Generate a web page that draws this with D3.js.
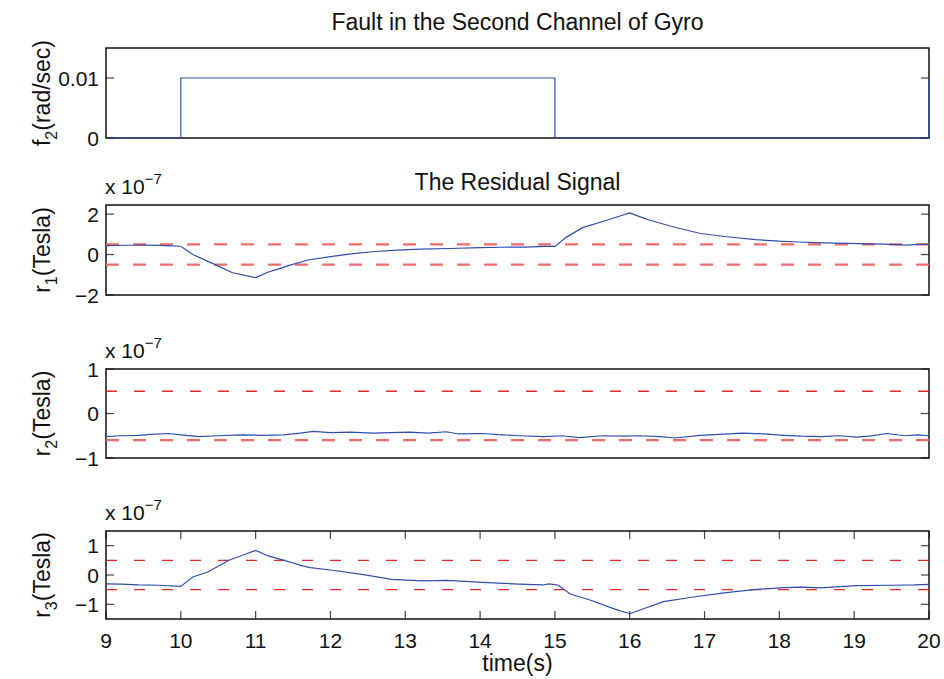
<!DOCTYPE html>
<html>
<head>
<meta charset="utf-8">
<script src="https://cdn.jsdelivr.net/npm/d3@7"></script>
<style>
  body { margin: 0; background: #fff; }
  svg { font-family: "Liberation Sans", Arial, Helvetica, sans-serif; }
</style>
</head>
<body>
<svg id="chart" width="944" height="679"></svg>
<script>
// Fault + residual data, residuals in units of 1e-7 Tesla
const timeTicks = [9, 10, 11, 12, 13, 14, 15, 16, 17, 18, 19, 20];

const faultTime = [9, 10, 10, 15, 15, 20, 20];
const faultVals = [0, 0, 0.01, 0.01, 0, 0, 0.01];

const r1Time = [9, 9.3, 9.6, 9.8, 10, 10.16, 10.4, 10.69, 11, 11.17, 11.3, 11.46, 11.7, 12, 12.3, 12.6, 12.9, 13.2, 13.6, 14, 14.3, 14.6, 14.85, 15, 15.15, 15.37, 15.66, 16, 16.15, 16.26, 16.6, 16.95, 17.3, 17.68, 18, 18.24, 18.6, 19.05, 19.4, 19.7, 19.85, 20];
const r1Vals = [0.44, 0.46, 0.47, 0.44, 0.41, 0.0, -0.4, -0.9, -1.14, -0.86, -0.72, -0.52, -0.27, -0.1, 0.05, 0.15, 0.22, 0.27, 0.3, 0.34, 0.36, 0.37, 0.4, 0.4, 0.85, 1.33, 1.66, 2.06, 1.85, 1.71, 1.35, 1.04, 0.88, 0.74, 0.66, 0.62, 0.58, 0.54, 0.52, 0.47, 0.5, 0.5];

const r2Time = [9, 9.2, 9.44, 9.6, 9.84, 10, 10.24, 10.5, 10.8, 11.1, 11.37, 11.6, 11.77, 12, 12.26, 12.58, 12.8, 13.06, 13.3, 13.55, 13.71, 14.03, 14.3, 14.52, 14.84, 15.1, 15.32, 15.65, 15.9, 16.13, 16.4, 16.61, 16.94, 17.2, 17.5, 17.8, 18.06, 18.3, 18.55, 18.8, 19.03, 19.2, 19.44, 19.68, 19.85, 20];
const r2Vals = [-0.52, -0.5, -0.49, -0.47, -0.45, -0.48, -0.52, -0.5, -0.48, -0.49, -0.48, -0.44, -0.4, -0.43, -0.42, -0.44, -0.43, -0.42, -0.44, -0.41, -0.46, -0.45, -0.48, -0.5, -0.52, -0.5, -0.54, -0.5, -0.51, -0.5, -0.52, -0.55, -0.49, -0.47, -0.44, -0.46, -0.49, -0.51, -0.52, -0.5, -0.53, -0.51, -0.45, -0.5, -0.48, -0.5];

const r3Time = [9, 9.2, 9.44, 9.7, 10, 10.16, 10.36, 10.65, 10.85, 11, 11.17, 11.45, 11.6, 11.73, 12, 12.42, 12.82, 13.23, 13.55, 13.8, 14.03, 14.52, 14.84, 14.92, 15.04, 15.2, 15.48, 15.81, 16, 16.13, 16.45, 16.85, 17.26, 17.66, 18.06, 18.3, 18.55, 19.03, 19.52, 19.8, 20];
const r3Vals = [-0.3, -0.31, -0.34, -0.35, -0.39, -0.07, 0.1, 0.51, 0.7, 0.84, 0.65, 0.45, 0.33, 0.25, 0.17, 0.02, -0.15, -0.2, -0.18, -0.22, -0.25, -0.31, -0.34, -0.3, -0.34, -0.64, -0.86, -1.17, -1.32, -1.2, -0.91, -0.75, -0.61, -0.5, -0.43, -0.41, -0.44, -0.36, -0.35, -0.34, -0.32];

// detection thresholds per residual
const r1Thresh = [0.5, -0.5];
const r2Thresh = [0.5, -0.6];
const r3Thresh = [0.5, -0.5];

const svg = d3.select("#chart");
const left = 106, right = 929;

const x = d3.scaleLinear().domain([9, 20]).range([left, right]);

const panels = [
  { top: 48, bottom: 138, domain: [0, 0.015], ticks: [0, 0.01], fmt: d => d === 0 ? "0" : "0.01",
    time: faultTime, vals: faultVals, thresh: [], label: ["f", "2", "(rad/sec)"], exp: false, xTicks: false },
  { top: 205, bottom: 295, domain: [-2, 2.45], ticks: [-2, 0, 2], fmt: d3.format("d"),
    time: r1Time, vals: r1Vals, thresh: r1Thresh, thick: [true, true], label: ["r", "1", "(Tesla)"], exp: true, xTicks: false },
  { top: 369, bottom: 458, domain: [-1, 1], ticks: [-1, 0, 1], fmt: d3.format("d"),
    time: r2Time, vals: r2Vals, thresh: r2Thresh, thick: [false, true], label: ["r", "2", "(Tesla)"], exp: true, xTicks: false },
  { top: 531, bottom: 619, domain: [-1.5, 1.5], ticks: [-1, 0, 1], fmt: d3.format("d"),
    time: r3Time, vals: r3Vals, thresh: r3Thresh, thick: [false, false], label: ["r", "3", "(Tesla)"], exp: true, xTicks: true }
];

const minus = s => String(s).replace("-", "\u2212");

panels.forEach(p => {
  const y = d3.scaleLinear().domain(p.domain).range([p.bottom, p.top]);
  const g = svg.append("g");

  // y ticks, inward on both sides
  const tickLen = 8;
  p.ticks.forEach(t => {
    g.append("line").attr("x1", left).attr("x2", left + tickLen)
      .attr("y1", y(t)).attr("y2", y(t)).attr("stroke", "#444").attr("stroke-width", 1.2);
    g.append("line").attr("x1", right - tickLen).attr("x2", right)
      .attr("y1", y(t)).attr("y2", y(t)).attr("stroke", "#444").attr("stroke-width", 1.2);
    g.append("text").attr("x", left - 7).attr("y", y(t) + 7.5)
      .attr("text-anchor", "end").style("font-size", "21px").attr("fill", "#111")
      .text(minus(p.fmt(t)));
  });

  if (p.xTicks) {
    timeTicks.forEach(t => {
      g.append("line").attr("x1", x(t)).attr("x2", x(t))
        .attr("y1", p.bottom).attr("y2", p.bottom - tickLen).attr("stroke", "#444").attr("stroke-width", 1.2);
      g.append("line").attr("x1", x(t)).attr("x2", x(t))
        .attr("y1", p.top).attr("y2", p.top + tickLen).attr("stroke", "#444").attr("stroke-width", 1.2);
      g.append("text").attr("x", x(t)).attr("y", p.bottom + 29)
        .attr("text-anchor", "middle").style("font-size", "21px").attr("fill", "#111")
        .text(t);
    });
  }

  // box
  g.append("rect").attr("x", left).attr("y", p.top)
    .attr("width", right - left).attr("height", p.bottom - p.top)
    .attr("fill", "none").attr("stroke", "#111").attr("stroke-width", 1.5);

  // thresholds
  p.thresh.forEach((v, i) => {
    const thick = p.thick[i];
    g.append("line").attr("x1", left).attr("x2", right)
      .attr("y1", y(v)).attr("y2", y(v))
      .attr("stroke", thick ? "#f06a6a" : "#e8262a")
      .attr("stroke-width", thick ? 2.2 : 1.3)
      .attr("stroke-dasharray", thick ? "13,14" : "11,17");
  });

  // signal
  const line = d3.line().x(d => x(d[0])).y(d => y(d[1]));
  g.append("path").datum(p.time.map((t, i) => [t, p.vals[i]]))
    .attr("d", line).attr("fill", "none")
    .attr("stroke", "#2f4db0").attr("stroke-width", 1.2);

  // y label (rotated, subscript drops to the right)
  const cy = (p.top + p.bottom) / 2;
  const lab = g.append("text").attr("transform", `translate(50,${cy}) rotate(-90)`)
    .attr("text-anchor", "middle").style("font-size", "23px").attr("fill", "#111");
  lab.append("tspan").text(p.label[0]);
  lab.append("tspan").attr("dy", 7).style("font-size", "16px").text(p.label[1]);
  lab.append("tspan").attr("dy", -7).text(p.label[2]);

  // exponent label
  if (p.exp) {
    const e = g.append("text").attr("x", left - 1).attr("y", p.top - 11)
      .style("font-size", "21px").attr("fill", "#111");
    e.append("tspan").text("x 10");
    e.append("tspan").attr("dy", -10).style("font-size", "15px").text("\u22127");
  }
});

// titles
svg.append("text").attr("x", (left + right) / 2).attr("y", 30)
  .attr("text-anchor", "middle").style("font-size", "23px").attr("fill", "#111")
  .text("Fault in the Second Channel of Gyro");

svg.append("text").attr("x", (left + right) / 2).attr("y", 190)
  .attr("text-anchor", "middle").style("font-size", "23px").attr("fill", "#111")
  .text("The Residual Signal");

svg.append("text").attr("x", (left + right) / 2).attr("y", 671)
  .attr("text-anchor", "middle").style("font-size", "23px").attr("fill", "#111")
  .text("time(s)");
</script>
</body>
</html>
